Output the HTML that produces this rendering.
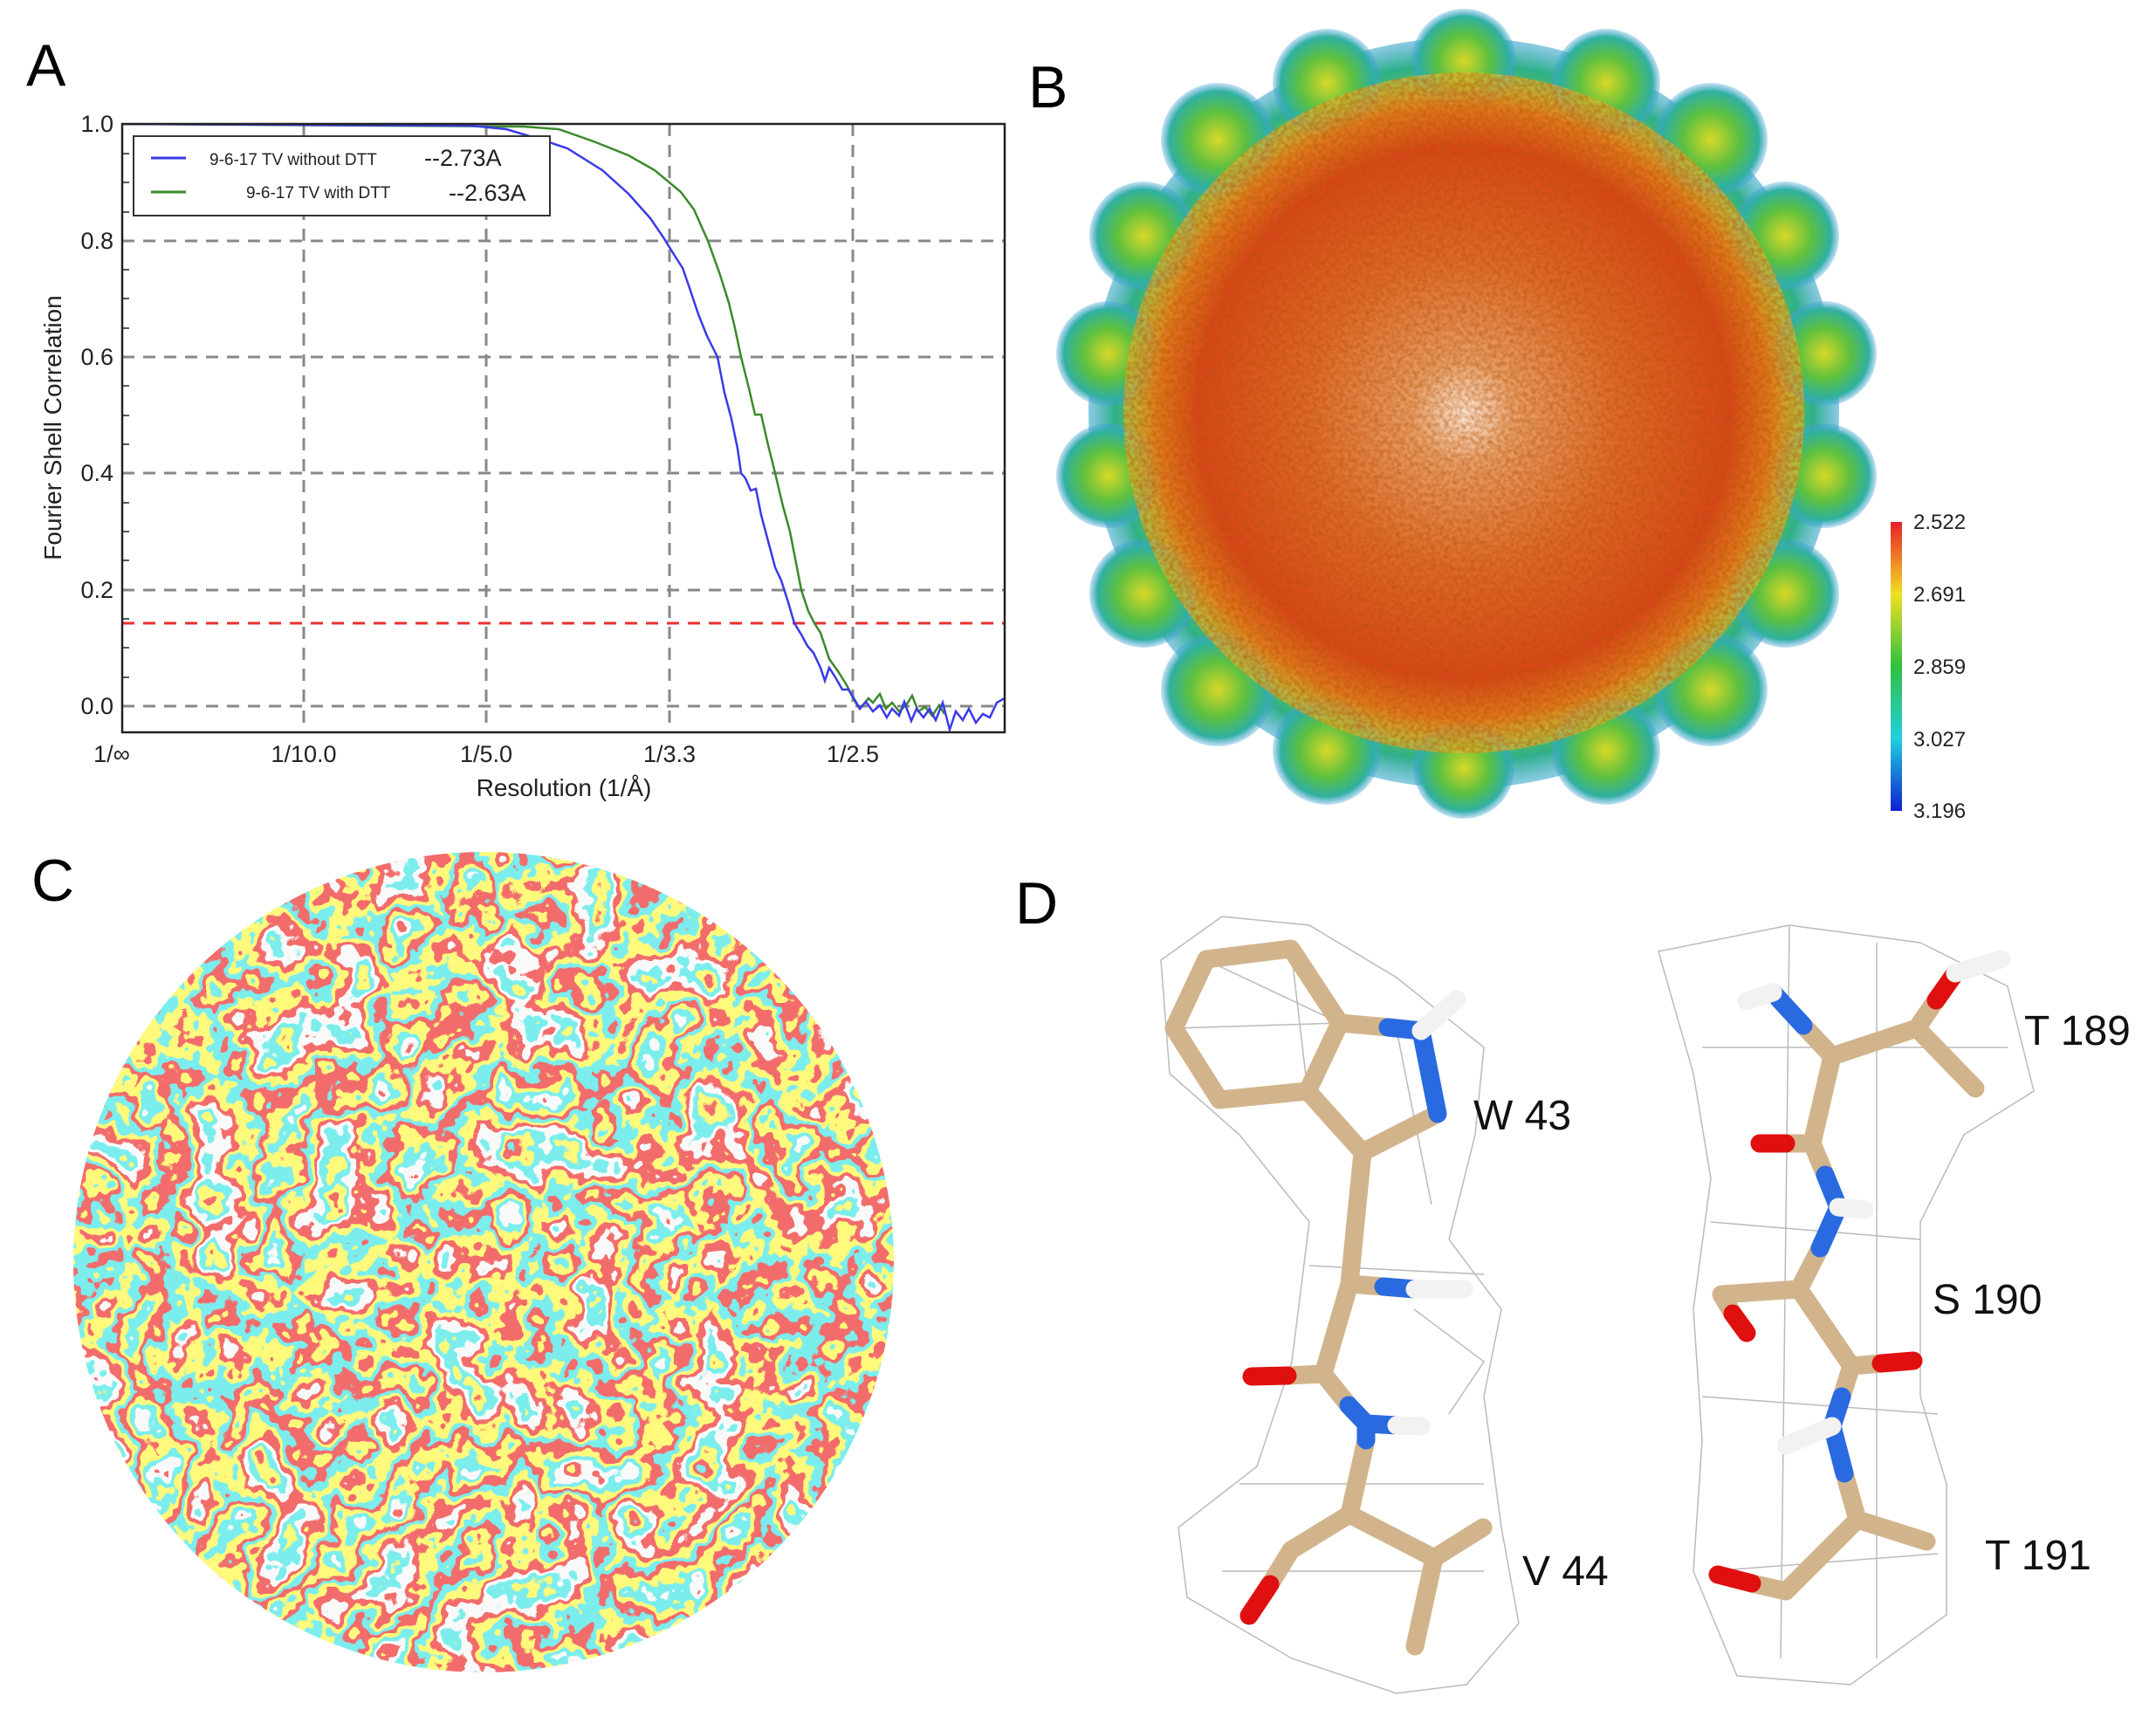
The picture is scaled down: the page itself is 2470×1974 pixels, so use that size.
<!DOCTYPE html>
<html><head><meta charset="utf-8"><style>
html,body{margin:0;padding:0;background:#fff;}
svg{display:block;}
text{font-family:"Liberation Sans",Arial,sans-serif;}
</style></head><body>
<svg width="2470" height="1974" viewBox="0 0 2470 1974" xmlns="http://www.w3.org/2000/svg">
<defs>
<filter id="nC" x="0" y="0" width="100%" height="100%">
 <feTurbulence type="fractalNoise" baseFrequency="0.014" numOctaves="4" seed="4"/>
 <feColorMatrix type="matrix" values="1 0 0 0 0 1 0 0 0 0 1 0 0 0 0 0 0 0 0 1"/>
 <feComponentTransfer>
  <feFuncR type="discrete" tableValues=".2 1 .9 .95 .2 1 .9 .2 1 .9 .95 .2 1 .9 .2 1"/>
  <feFuncG type="discrete" tableValues=".85 .95 .15 .95 .85 .95 .15 .85 .95 .15 .95 .85 .95 .15 .85 .95"/>
  <feFuncB type="discrete" tableValues=".85 .2 .15 .95 .85 .2 .15 .85 .2 .15 .95 .85 .2 .15 .85 .2"/>
  <feFuncA type="linear" slope="0" intercept="1"/>
 </feComponentTransfer>
</filter>
<filter id="nB" x="0" y="0" width="100%" height="100%">
 <feTurbulence type="fractalNoise" baseFrequency="0.2" numOctaves="2" seed="7"/>
 <feColorMatrix type="matrix" values="0 0 0 0 0.45 0 0 0 0 0.08 0 0 0 0 0 1 0 0 0 -0.3"/>
</filter>
<radialGradient id="gB" cx="0.5" cy="0.5" r="0.5">
 <stop offset="0" stop-color="#fbe7d8"/>
 <stop offset="0.15" stop-color="#e8a06a"/>
 <stop offset="0.45" stop-color="#df6a2a"/>
 <stop offset="0.78" stop-color="#d8461a"/>
 <stop offset="0.9" stop-color="#e07a1e"/>
 <stop offset="1" stop-color="#e6c030" stop-opacity="0.6"/>
</radialGradient>
<radialGradient id="gBo" cx="0.5" cy="0.5" r="0.5">
 <stop offset="0.7" stop-color="#e8d020"/>
 <stop offset="0.82" stop-color="#8cc830"/>
 <stop offset="0.93" stop-color="#2eb088"/>
 <stop offset="1" stop-color="#40a8d0" stop-opacity="0.6"/>
</radialGradient>
<radialGradient id="bump" cx="0.5" cy="0.5" r="0.5">
 <stop offset="0" stop-color="#d8d828"/>
 <stop offset="0.5" stop-color="#5cc040"/>
 <stop offset="0.85" stop-color="#30b0a0"/>
 <stop offset="1" stop-color="#40a0d8" stop-opacity="0.3"/>
</radialGradient>
<linearGradient id="cbar" x1="0" y1="0" x2="0" y2="1">
 <stop offset="0" stop-color="#e8202a"/>
 <stop offset="0.25" stop-color="#f0e020"/>
 <stop offset="0.5" stop-color="#30c040"/>
 <stop offset="0.75" stop-color="#20d0e0"/>
 <stop offset="1" stop-color="#1020d0"/>
</linearGradient>
<clipPath id="cC"><circle cx="554" cy="1446" r="470"/></clipPath>
<clipPath id="cB"><circle cx="1677" cy="473" r="390"/></clipPath>
<clipPath id="plotA"><rect x="140" y="142" width="1011" height="697"/></clipPath>
</defs>

<text x="30" y="98" font-size="68">A</text>
<text x="1178" y="123" font-size="68">B</text>
<text x="36" y="1032" font-size="68">C</text>
<text x="1163" y="1058" font-size="68">D</text>

<!-- Panel A -->
<g stroke="#888" stroke-width="3" stroke-dasharray="14,10" fill="none">
 <line x1="140" y1="276" x2="1151" y2="276"/>
 <line x1="140" y1="409" x2="1151" y2="409"/>
 <line x1="140" y1="542" x2="1151" y2="542"/>
 <line x1="140" y1="676" x2="1151" y2="676"/>
 <line x1="140" y1="809" x2="1151" y2="809"/>
 <line x1="348" y1="142" x2="348" y2="839"/>
 <line x1="557" y1="142" x2="557" y2="839"/>
 <line x1="767" y1="142" x2="767" y2="839"/>
 <line x1="977" y1="142" x2="977" y2="839"/>
</g>
<line x1="140" y1="714" x2="1151" y2="714" stroke="#e83030" stroke-width="3" stroke-dasharray="14,10"/>
<g clip-path="url(#plotA)" fill="none" stroke-width="2.5">
<polyline stroke="#3a8a2a" points="140,142 600,145 640,148 680,162 720,178 750,195 780,220 795,240 811,276 825,315 835,347 842,376 849,409 858,445 865,475 872,475 880,510 888,542 897,580 905,609 912,645 918,676 926,700 933,714 940,725 950,755 960,769 970,785 979,803 985,812 995,800 1000,805 1008,795 1015,812 1022,805 1030,815 1038,808 1045,797 1052,815 1060,810 1068,820 1076,808 1082,818"/>
<polyline stroke="#3a3ae8" points="140,142 540,144 580,148 620,160 650,170 690,195 720,222 745,250 760,272 773,293 782,307 790,330 800,360 810,385 822,409 830,450 838,480 845,514 849,542 854,548 860,562 866,560 872,590 880,620 888,650 895,665 903,690 910,714 918,727 925,740 932,748 940,765 945,780 950,765 957,776 965,790 972,790 980,803 985,812 992,804 1000,815 1008,808 1016,822 1022,812 1030,820 1036,804 1044,826 1050,812 1058,822 1065,812 1072,825 1080,805 1088,836 1095,815 1103,825 1110,812 1118,828 1126,818 1134,822 1142,805 1151,800"/>
</g>
<rect x="140" y="142" width="1011" height="697" fill="none" stroke="#222" stroke-width="2.5"/>
<g stroke="#222" stroke-width="1.5">
 <path d="M140,176h8M140,209h8M140,243h8M140,309h8M140,342h8M140,376h8M140,442h8M140,476h8M140,509h8M140,576h8M140,609h8M140,642h8M140,709h8M140,742h8M140,776h8"/>
</g>
<g font-size="27" fill="#222" text-anchor="end">
 <text x="130" y="151">1.0</text><text x="130" y="285">0.8</text><text x="130" y="418">0.6</text>
 <text x="130" y="551">0.4</text><text x="130" y="685">0.2</text><text x="130" y="818">0.0</text>
</g>
<g font-size="27" fill="#222" text-anchor="middle">
 <text x="128" y="873">1/∞</text><text x="348" y="873">1/10.0</text><text x="557" y="873">1/5.0</text>
 <text x="767" y="873">1/3.3</text><text x="977" y="873">1/2.5</text>
</g>
<text x="646" y="912" font-size="28" fill="#222" text-anchor="middle">Resolution (1/Å)</text>
<text transform="translate(70,490) rotate(-90)" font-size="28" fill="#222" text-anchor="middle">Fourier Shell Correlation</text>
<rect x="153" y="156" width="477" height="91" fill="#fff" stroke="#333" stroke-width="2"/>
<line x1="173" y1="181" x2="213" y2="181" stroke="#3a3ae8" stroke-width="3"/>
<line x1="173" y1="220" x2="213" y2="220" stroke="#3a8a2a" stroke-width="3"/>
<text x="240" y="189" font-size="19" fill="#222">9-6-17 TV without DTT</text>
<text x="282" y="227" font-size="19" fill="#222">9-6-17 TV with DTT</text>
<text x="486" y="190" font-size="27" fill="#222">--2.73A</text>
<text x="514" y="230" font-size="27" fill="#222">--2.63A</text>

<!-- Panel B -->
<g>
 <circle cx="1677" cy="473" r="430" fill="url(#gBo)"/>
 <g fill="url(#bump)">
  <circle cx="1677" cy="70" r="60"/><circle cx="1520" cy="95" r="62"/><circle cx="1840" cy="95" r="62"/>
  <circle cx="1395" cy="160" r="65"/><circle cx="1960" cy="160" r="65"/><circle cx="1310" cy="270" r="62"/>
  <circle cx="2045" cy="270" r="62"/><circle cx="1270" cy="405" r="60"/><circle cx="2090" cy="405" r="60"/>
  <circle cx="1270" cy="545" r="60"/><circle cx="2090" cy="545" r="60"/><circle cx="1310" cy="680" r="62"/>
  <circle cx="2045" cy="680" r="62"/><circle cx="1395" cy="790" r="65"/><circle cx="1960" cy="790" r="65"/>
  <circle cx="1520" cy="860" r="62"/><circle cx="1840" cy="860" r="62"/><circle cx="1677" cy="880" r="58"/>
 </g>
 <circle cx="1677" cy="473" r="390" fill="url(#gB)"/>
 <rect x="1280" y="80" width="800" height="790" filter="url(#nB)" clip-path="url(#cB)"/>
</g>
<rect x="2166" y="598" width="13" height="331" fill="url(#cbar)"/>
<g font-size="24" fill="#222">
 <text x="2192" y="606">2.522</text><text x="2192" y="689">2.691</text><text x="2192" y="772">2.859</text>
 <text x="2192" y="855">3.027</text><text x="2192" y="937">3.196</text>
</g>

<!-- Panel C -->
<rect x="84" y="976" width="940" height="940" filter="url(#nC)" clip-path="url(#cC)"/>

<!-- Panel D mesh -->
<g stroke="#aaa" stroke-width="1.5" fill="none" opacity="0.8">
 <path d="M1330,1100 L1400,1050 L1500,1060 L1600,1120 L1700,1200 L1690,1300 L1660,1420 L1720,1500 L1700,1600 L1720,1750 L1740,1860 L1680,1930 L1600,1940 L1480,1900 L1360,1830 L1350,1750 L1440,1680 L1480,1560 L1500,1400 L1420,1300 L1340,1230 Z"/>
 <path d="M1380,1099 L1535,1172 M1345,1178 L1535,1172 M1479,1087 L1498,1250 M1600,1180 L1640,1380 M1500,1450 L1700,1460 M1420,1700 L1700,1700 M1400,1800 L1700,1800 M1620,1500 L1700,1560 L1660,1620"/>
 <path d="M1900,1090 L2050,1060 L2200,1080 L2300,1130 L2330,1250 L2250,1300 L2200,1400 L2200,1600 L2230,1700 L2230,1850 L2120,1930 L1990,1920 L1940,1800 L1950,1650 L1940,1500 L1960,1350 L1940,1230 Z"/>
 <path d="M1950,1200 L2300,1200 M1960,1400 L2200,1420 M1950,1600 L2220,1620 M1960,1800 L2220,1780 M2050,1060 L2040,1900 M2150,1080 L2150,1900"/>
</g>
<g stroke-linecap="round" stroke-linejoin="round" fill="none" stroke-width="21">
 <g stroke="#d2b48c">
  <path d="M1382,1099 L1479,1087 L1535,1172 L1498,1250 L1397,1260 L1345,1178 Z"/>
  <path d="M1535,1172 L1590,1177 M1498,1250 L1561,1320 L1647,1276 M1561,1320 L1546,1471 L1516,1574 L1475,1576 M1546,1471 L1585,1474 M1516,1574 L1545,1610 M1565,1650 L1546,1735 L1479,1776 L1455,1815 M1546,1735 L1643,1785 L1699,1750 M1643,1785 L1621,1886"/>
  <path d="M2066,1175 L2099,1210 L2196,1178 L2218,1146 M2196,1178 L2263,1247 M2099,1210 L2076,1310 L2046,1310 M2076,1310 L2091,1346 M2085,1430 L2061,1477 L1972,1483 L1985,1505 M2061,1477 L2121,1565 L2155,1562 M2121,1565 L2110,1600 M2113,1688 L2128,1741 L2207,1766 M2128,1741 L2046,1823 L2007,1814"/>
 </g>
 <g stroke="#2a6ae0">
  <path d="M1590,1177 L1628,1181 L1647,1276 M1585,1474 L1621,1477 M1545,1610 L1565,1631 L1565,1650 M1565,1631 L1600,1633"/>
  <path d="M2031,1137 L2066,1175 M2091,1346 L2106,1383 L2085,1430 M2110,1600 L2099,1634 L2113,1688"/>
 </g>
 <g stroke="#e01010">
  <path d="M1475,1576 L1434,1577 M1455,1815 L1431,1851 M2046,1310 L2016,1310 M1985,1505 L2001,1527 M2155,1562 L2192,1559 M2007,1814 L1968,1804 M2218,1146 L2240,1115"/>
 </g>
 <g stroke="#f2f2f2">
  <path d="M1628,1181 L1669,1145 M1621,1477 L1677,1477 M1600,1633 L1628,1634 M2031,1137 L2001,1147 M2240,1115 L2293,1099 M2106,1383 L2136,1386 M2099,1634 L2046,1656"/>
 </g>
</g>
<g font-size="48" fill="#111">
 <text x="1688" y="1294">W 43</text>
 <text x="1744" y="1816">V 44</text>
 <text x="2319" y="1197">T 189</text>
 <text x="2214" y="1505">S 190</text>
 <text x="2274" y="1798">T 191</text>
</g>
</svg>
</body></html>
